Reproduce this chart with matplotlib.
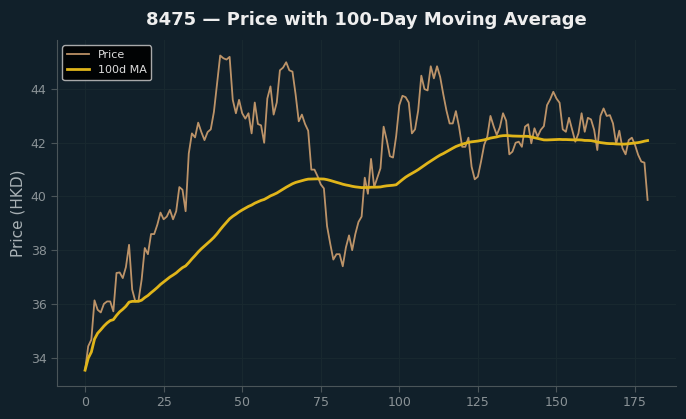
import numpy as np
import pandas as pd
import matplotlib
matplotlib.use("Agg")
import matplotlib.pyplot as plt

title = "8475 — Price with 100-Day Moving Average"
ylabel = "Price (HKD)"
ma_window = 100

price = [
    33.53, 34.42, 34.67, 36.13, 35.78, 35.68, 36.00, 36.09, 36.09, 35.72,
    37.15, 37.17, 36.96, 37.37, 38.20, 36.53, 36.09, 36.12, 36.90, 38.08,
    37.85, 38.60, 38.60, 38.95, 39.40, 39.15, 39.25, 39.50, 39.15, 39.45,
    40.35, 40.25, 39.45, 41.60, 42.35, 42.20, 42.75, 42.40, 42.10, 42.40,
    42.50, 43.15, 44.20, 45.25, 45.15, 45.10, 45.20, 43.60, 43.10, 43.60,
    43.10, 42.90, 43.10, 42.35, 43.50, 42.70, 42.65, 42.00, 43.65, 44.10,
    43.05, 43.50, 44.70, 44.80, 45.00, 44.70, 44.65, 43.80, 42.80, 43.05,
    42.70, 42.45, 41.00, 41.00, 40.75, 40.45, 40.30, 38.90, 38.25, 37.65,
    37.85, 37.85, 37.40, 38.10, 38.55, 38.00, 38.60, 39.05, 39.25, 40.70,
    40.10, 41.40, 40.35, 40.70, 41.05, 42.60, 42.10, 41.50, 41.45, 42.25,
    43.40, 43.75, 43.70, 43.50, 42.35, 42.50, 43.20, 44.50, 44.00, 43.95,
    44.85, 44.40, 44.85, 44.45, 43.80, 43.20, 42.72, 42.72, 43.18, 42.60,
    41.85, 41.85, 42.19, 41.11, 40.64, 40.74, 41.30, 41.92, 42.23, 43.00,
    42.62, 42.29, 42.58, 43.10, 42.82, 41.57, 41.67, 42.00, 42.04, 41.85,
    42.60, 42.69, 41.98, 42.54, 42.23, 42.48, 42.62, 43.40, 43.62, 43.90,
    43.65, 43.49, 42.50, 42.41, 42.93, 42.48, 42.04, 42.35, 43.10, 42.41,
    42.93, 42.87, 42.48, 41.73, 43.00, 43.28, 43.00, 43.03, 42.72, 41.96,
    42.45, 41.80, 41.57, 42.10, 42.19, 41.92, 41.55, 41.30, 41.26, 39.87,
]

days = np.arange(len(price))
ma = pd.Series(price).rolling(ma_window, min_periods=1).mean()

bg = "#11202a"
fig = plt.figure(figsize=(6.86, 4.19), dpi=100, facecolor=bg)
ax = fig.add_axes([0.083, 0.079, 0.902, 0.826], facecolor=bg)

ax.plot(days, price, color="#d0a070", lw=1.3, alpha=0.9, label="Price")
ax.plot(days, ma, color="#e0b51a", lw=2.0, label="100d MA")

ax.set_xticks([0, 25, 50, 75, 100, 125, 150, 175])
ax.set_yticks([34, 36, 38, 40, 42, 44])
ax.grid(True, color="#18282f", lw=0.8)
ax.set_axisbelow(True)
for s in ["top", "right"]:
    ax.spines[s].set_visible(False)
for s in ["left", "bottom"]:
    ax.spines[s].set_color("#4a5559")
ax.tick_params(colors="#4a5559", labelcolor="#8a9296", labelsize=9, length=4)

ax.set_ylabel(ylabel, color="#a9b1b5", fontsize=11)
ax.set_title(title, color="#eeeeee", fontsize=13, fontweight="bold", pad=11)

leg = ax.legend(loc="upper left", fontsize=8, facecolor="#000000", edgecolor="#bbbbbb",
                framealpha=0.9, labelcolor="#dddddd")

fig.savefig("out.png", dpi=100, facecolor=bg)
